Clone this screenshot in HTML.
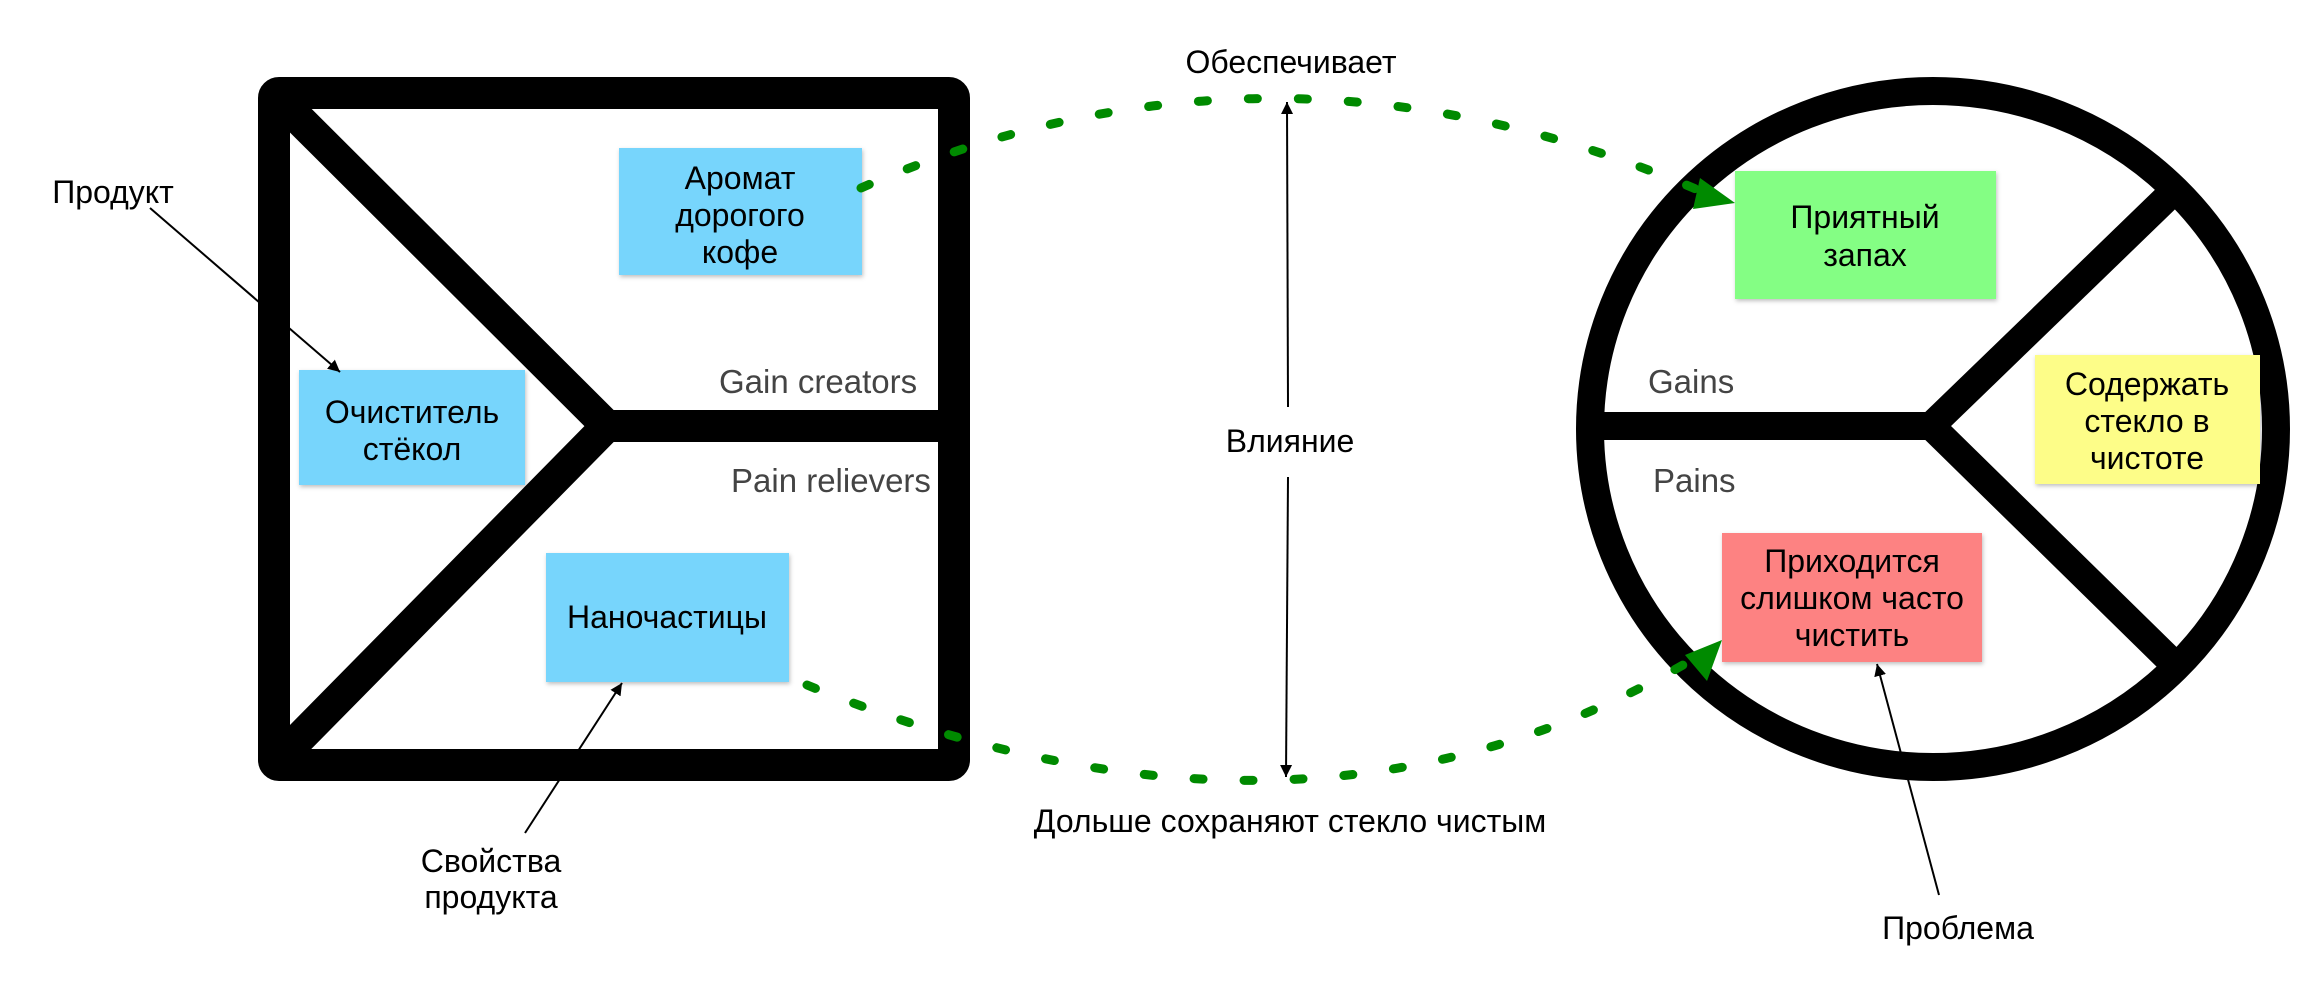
<!DOCTYPE html>
<html><head><meta charset="utf-8">
<style>
html,body{margin:0;padding:0;background:#fff;}
svg{display:block;}
text{font-family:"Liberation Sans",sans-serif;}
</style></head>
<body>
<svg width="2320" height="986" viewBox="0 0 2320 986" xmlns="http://www.w3.org/2000/svg">
<defs>
<marker id="ba" viewBox="0 0 10 10" refX="10" refY="5" markerWidth="12" markerHeight="14" orient="auto" markerUnits="userSpaceOnUse">
<path d="M0,0 L10,5 L0,10 z" fill="#000"/>
</marker>
<filter id="sh" x="-10%" y="-10%" width="120%" height="120%">
<feDropShadow dx="1" dy="2" stdDeviation="2" flood-color="#000" flood-opacity="0.25"/>
</filter>
</defs>

<!-- Square -->
<rect x="274" y="93" width="680" height="672" rx="5" fill="none" stroke="#000" stroke-width="32" stroke-linejoin="round"/>
<polyline points="276,96 607,426 276,762" fill="none" stroke="#000" stroke-width="32"/>
<line x1="607" y1="426" x2="954" y2="426" stroke="#000" stroke-width="32"/>

<!-- Circle -->
<ellipse cx="1933" cy="429" rx="343" ry="338" fill="none" stroke="#000" stroke-width="28"/>
<line x1="1592" y1="426" x2="1931" y2="426" stroke="#000" stroke-width="28"/>
<polyline points="2178,187 1931,426 2178,668" fill="none" stroke="#000" stroke-width="28"/>

<!-- Section labels -->
<g font-size="33" fill="#444">
<text x="719" y="393">Gain creators</text>
<text x="731" y="492">Pain relievers</text>
<text x="1648" y="393">Gains</text>
<text x="1653" y="492">Pains</text>
</g>

<!-- Boxes -->
<g filter="url(#sh)">
<rect x="619" y="148" width="243" height="127" fill="#77d5fc"/>
<rect x="299" y="370" width="226" height="115" fill="#77d5fc"/>
<rect x="546" y="553" width="243" height="129" fill="#77d5fc"/>
<rect x="1735" y="171" width="261" height="128" fill="#84fe84"/>
<rect x="2035" y="355" width="225" height="129" fill="#fdfd88"/>
<rect x="1722" y="533" width="260" height="129" fill="#fd8282"/>
</g>
<g font-size="32" fill="#000" text-anchor="middle">
<text x="740" y="189">Аромат</text>
<text x="740" y="226">дорогого</text>
<text x="740" y="263">кофе</text>
<text x="412" y="423">Очиститель</text>
<text x="412" y="460">стёкол</text>
<text x="667" y="628">Наночастицы</text>
<text x="1865" y="228">Приятный</text>
<text x="1865" y="266">запах</text>
<text x="2147" y="395">Содержать</text>
<text x="2147" y="432">стекло в</text>
<text x="2147" y="469">чистоте</text>
<text x="1852" y="572">Приходится</text>
<text x="1852" y="609">слишком часто</text>
<text x="1852" y="646">чистить</text>
</g>

<!-- Annotation labels -->
<g font-size="32" fill="#000" text-anchor="middle">
<text x="113" y="203">Продукт</text>
<text x="491" y="872">Свойства</text>
<text x="491" y="908">продукта</text>
<text x="1291" y="73">Обеспечивает</text>
<text x="1290" y="452">Влияние</text>
<text x="1290" y="832">Дольше сохраняют стекло чистым</text>
<text x="1958" y="939">Проблема</text>
</g>

<!-- thin arrows -->
<g stroke="#000" stroke-width="2" fill="none">
<line x1="150" y1="208" x2="340" y2="372" marker-end="url(#ba)"/>
<line x1="525" y1="833" x2="622" y2="683" marker-end="url(#ba)"/>
<line x1="1939" y1="895" x2="1877" y2="664" marker-end="url(#ba)"/>
<line x1="1288" y1="407" x2="1287" y2="102" marker-end="url(#ba)"/>
<line x1="1288" y1="477" x2="1286" y2="777" marker-end="url(#ba)"/>
</g>

<!-- green dotted connectors -->
<g stroke="#008a00" stroke-width="9" stroke-linecap="round" fill="none" stroke-dasharray="9 41">
<path d="M861,188 Q1278,5 1712,196"/>
<path d="M807,685 Q1312,891 1705,652"/>
</g>
<path d="M1735,203 L1700,178 L1693,209 z" fill="#008a00"/>
<path d="M1722,640 L1685,655 L1707,681 z" fill="#008a00"/>
</svg>
</body></html>
